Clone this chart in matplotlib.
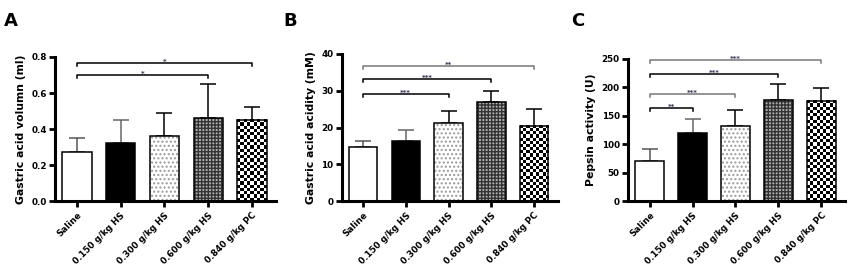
import numpy as np
import matplotlib
matplotlib.use("Agg")
import matplotlib.pyplot as plt

plt.rcParams['font.family'] = ['DejaVu Sans']
plt.rcParams['font.weight'] = 'bold'
plt.rcParams['axes.labelweight'] = 'bold'
plt.rcParams['hatch.linewidth'] = 1.0

groups = ["Saline", "0.150 g/kg HS", "0.300 g/kg HS", "0.600 g/kg HS", "0.840 g/kg PC"]

volume = [0.27, 0.32, 0.36, 0.46, 0.45]
volume_err = [0.08, 0.13, 0.13, 0.19, 0.07]
acidity = [14.8, 16.4, 21.2, 27.0, 20.5]
acidity_err = [1.6, 2.8, 3.3, 3.0, 4.5]
pepsin = [71, 120, 132, 178, 176]
pepsin_err = [20, 25, 28, 28, 23]

# (group index, bracket height, stars, colour)
volume_sig = [(3, 0.70, "*", "black"), (4, 0.765, "*", "black")]
acidity_sig = [(2, 29.2, "***", "black"), (3, 33.2, "***", "black"), (4, 36.8, "**", "#777777")]
pepsin_sig = [(1, 164, "**", "black"), (2, 188, "***", "#777777"),
              (3, 224, "***", "black"), (4, 248, "***", "#777777")]

fills = [
    dict(facecolor="white", hatch=None, hcol="white"),
    dict(facecolor="black", hatch=None, hcol="black"),
    dict(facecolor="white", hatch="....", hcol="#9a9a9a"),
    dict(facecolor="#b0b0b0", hatch="+++++", hcol="#333333"),
    dict(facecolor="white", hatch="checker", hcol="black"),
]


def panel(ax, vals, errs, sig, ymax, ystep, ylabel, yfmt):
    x = np.arange(len(vals))
    w = 0.67
    ax.set_ylim(0, ymax)
    ax.set_xlim(-0.5, len(vals) - 0.45)
    ax_h = ax.get_window_extent().height
    for i, (v, f) in enumerate(zip(vals, fills)):
        if f["hatch"] == "checker":
            ny = max(1, int(round(v / ymax * ax_h / 3.2)))
            nx = 9
            board = (np.add.outer(np.arange(ny), np.arange(nx)) % 2).astype(float)
            ax.imshow(board, cmap="gray", vmin=0, vmax=1, interpolation="nearest",
                      extent=(x[i] - w / 2, x[i] + w / 2, 0, v), aspect="auto", zorder=2)
        else:
            ax.bar(x[i], v, w, color=f["facecolor"], edgecolor=f["hcol"],
                   hatch=f["hatch"], linewidth=0, zorder=2)
        ax.bar(x[i], v, w, fill=False, edgecolor="black", linewidth=1.1, zorder=3)
    ecol = ["#555555", "#666666", "black", "black", "black"]
    for i in range(len(vals)):
        ax.errorbar(x[i], vals[i], yerr=[[0], [errs[i]]], fmt="none",
                    ecolor=ecol[i], elinewidth=1.1, capsize=5.5, capthick=1.1, zorder=1)

    drop = ymax * 0.022
    for j, h, stars, col in sig:
        ax.plot([0, 0, j, j], [h - drop, h, h, h - drop], color=col, lw=1.1,
                clip_on=False, zorder=4)
        ax.text(j / 2, h - ymax * 0.014, stars, ha="center", va="bottom",
                fontsize=5, color="#333355", zorder=5)

    ax.set_xlim(-0.5, len(vals) - 0.45)
    ax.set_ylim(0, ymax)
    yt = np.arange(0, ymax + ystep / 2, ystep)
    ax.set_yticks(yt)
    ax.set_yticklabels([yfmt.format(t) for t in yt], fontsize=6.3)
    ax.set_xticks(x)
    ax.set_xticklabels(groups, rotation=45, ha="right", rotation_mode="anchor",
                       fontsize=6.3)
    ax.set_ylabel(ylabel, fontsize=7.8, fontweight="bold", labelpad=4)
    for s in ["top", "right"]:
        ax.spines[s].set_visible(False)
    for s in ["left", "bottom"]:
        ax.spines[s].set_linewidth(2.2)
    ax.tick_params(axis="both", width=2.0, length=4, pad=2)
    ax.tick_params(axis="x", pad=3)


fig = plt.figure(figsize=(8.5, 2.74), dpi=100)
axA = fig.add_axes([0.0647, 0.266, 0.26, 0.526])
axB = fig.add_axes([0.402, 0.266, 0.254, 0.537])
axC = fig.add_axes([0.739, 0.266, 0.255, 0.519])

panel(axA, volume, volume_err, volume_sig, 0.8, 0.2, "Gastric acid volumn (ml)", "{:.1f}")
panel(axB, acidity, acidity_err, acidity_sig, 40, 10, "Gastric acid acidity (mM)", "{:.0f}")
panel(axC, pepsin, pepsin_err, pepsin_sig, 250, 50, "Pepsin activity (U)", "{:.0f}")

for letter, lx in [("A", 0.005), ("B", 0.333), ("C", 0.672)]:
    fig.text(lx, 0.955, letter, fontsize=13, fontweight="bold", ha="left", va="top")

fig.savefig("out.png", dpi=100)
